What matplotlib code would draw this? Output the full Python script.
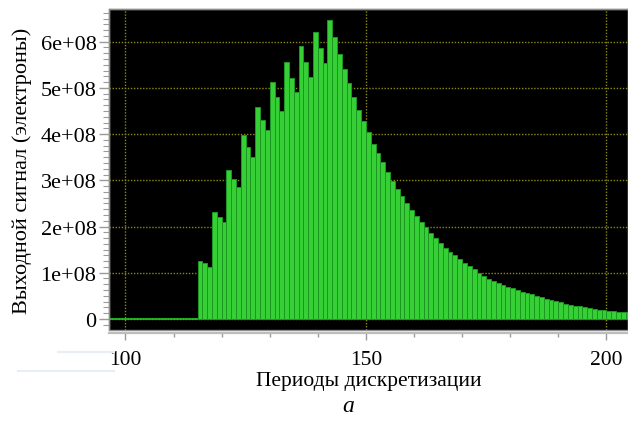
#!/usr/bin/env python3
# -*- coding: utf-8 -*-

"""
Output signal histogram over sampling periods
"""

import matplotlib
matplotlib.use("Agg")
import matplotlib.pyplot as plt
import matplotlib.ticker as ticker
from matplotlib.lines import Line2D

##! Data: signal per sampling period, in units of 1e8 electrons
periods = list(range(115, 205))
signal_e8 = [
    1.25, 1.20, 1.12, 2.32, 2.20, 2.09, 3.22, 3.02, 2.85, 3.98,
    3.73, 3.51, 4.59, 4.31, 4.09, 5.12, 4.80, 4.51, 5.56, 5.22,
    4.91, 5.90, 5.56, 5.24, 6.21, 5.87, 5.53, 6.46, 6.10, 5.74,
    5.41, 5.11, 4.80, 4.52, 4.28, 4.05, 3.79, 3.59, 3.39, 3.18,
    2.99, 2.81, 2.67, 2.51, 2.35, 2.22, 2.10, 1.98, 1.87, 1.75,
    1.64, 1.54, 1.45, 1.38, 1.29, 1.21, 1.14, 1.07, 1.00, 0.93,
    0.87, 0.83, 0.78, 0.74, 0.70, 0.67, 0.63, 0.59, 0.56, 0.53,
    0.50, 0.47, 0.43, 0.41, 0.38, 0.36, 0.33, 0.31, 0.29, 0.27,
    0.25, 0.23, 0.22, 0.20, 0.19, 0.18, 0.17, 0.16, 0.15, 0.145,
]
signal = [v * 1e8 for v in signal_e8]

xticks = [100, 150, 200]
yticks = [0, 1e8, 2e8, 3e8, 4e8, 5e8, 6e8]
ytick_labels = ["0", "1e+08", "2e+08", "3e+08", "4e+08", "5e+08", "6e+08"]

plt.rcParams["font.family"] = ["Liberation Serif", "DejaVu Serif"]

fig = plt.figure(figsize=(6.28, 4.31), dpi=100)
ax = fig.add_axes([0.1735, 0.232, 0.8265, 0.745])
ax.set_facecolor("black")
ax.patch.set_edgecolor("#8c8c8c")
ax.patch.set_linewidth(1.0)

# dotted yellow grid under the bars
ax.set_axisbelow(True)
ax.grid(True, which="major", color="#8a8a10", linestyle=(0, (1, 1.2)),
        linewidth=1.0)

# zero level before the signal starts
ax.axhline(0, color="#22cc22", linewidth=1.2, zorder=1)

ax.bar(periods, signal, width=1.0, align="edge",
       color="#36d036", edgecolor="#1b981f", linewidth=0.7, zorder=2)

ax.set_xlim(96.58, 204.5)
ax.set_ylim(-0.24e8, 6.71e8)

ax.set_xticks(xticks)
ax.xaxis.set_minor_locator(ticker.MultipleLocator(10))
ax.set_yticks(yticks)
ax.set_yticklabels(ytick_labels)
ax.yaxis.set_minor_locator(ticker.AutoMinorLocator(8))

for side in ["top", "right", "left"]:
    ax.spines[side].set_color("#8c8c8c")
    ax.spines[side].set_linewidth(1.0)
ax.spines["bottom"].set_position(("outward", 2.5))
ax.spines["bottom"].set_color("#bdbdbd")
ax.spines["bottom"].set_linewidth(1.6)

ax.tick_params(axis="x", which="major", direction="out", length=5,
               width=1, color="#9a9a9a", labelsize=15.5, pad=7)
ax.tick_params(axis="x", which="minor", direction="out", length=3,
               width=1, color="#9a9a9a")
ax.tick_params(axis="y", which="major", direction="out", length=7,
               width=1, color="#9a9a9a", labelsize=16, pad=2)
ax.tick_params(axis="y", which="minor", direction="out", length=4,
               width=0.8, color="#9a9a9a")

ax.set_xlabel("Периоды дискретизации", fontsize=15.5, labelpad=1)
ax.set_ylabel("Выходной сигнал (электроны)", fontsize=16, labelpad=6)

fig.text(0.554, 0.058, "a", fontsize=17, style="italic",
         ha="center", va="center")

# faint light strokes at the lower left
fig.add_artist(Line2D([58 / 628, 114 / 628], [1 - 353 / 431, 1 - 353 / 431],
                      color="#e9eef4", linewidth=1.5))
fig.add_artist(Line2D([18 / 628, 114 / 628], [1 - 372 / 431, 1 - 372 / 431],
                      color="#e9eef4", linewidth=1.5))

fig.savefig("out.png", dpi=100)
plt.close(fig)
